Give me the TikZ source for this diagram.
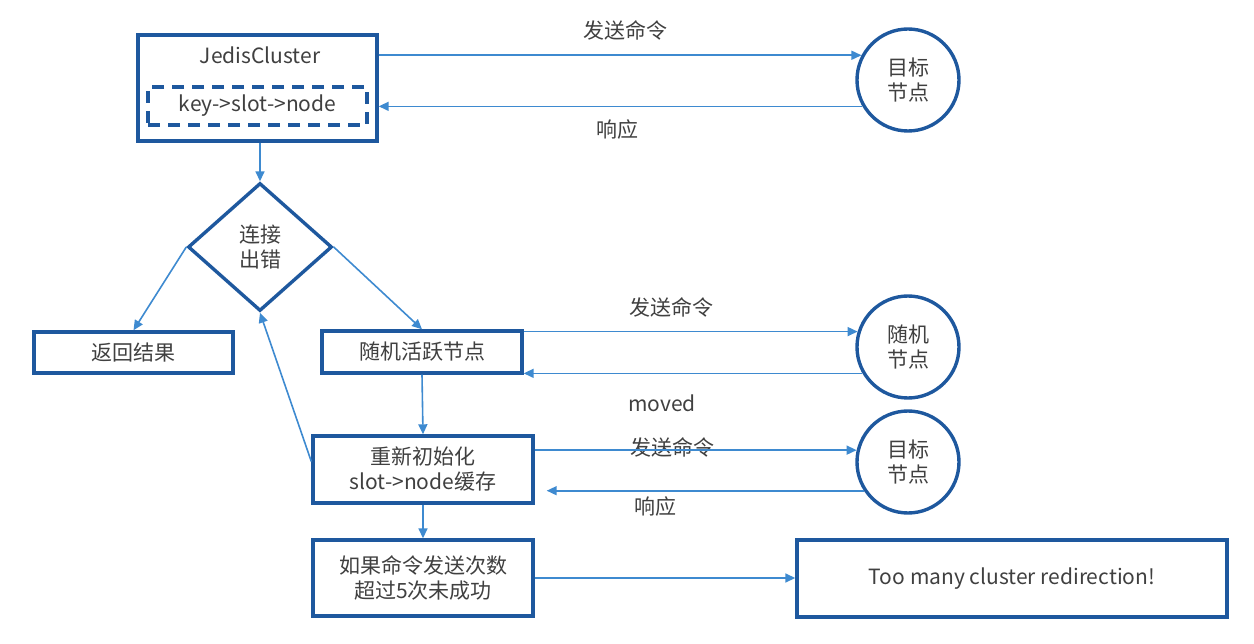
\documentclass[tikz,border=0pt]{standalone}
\usepackage{fontspec}
\setmainfont{Noto Sans CJK SC}
\usetikzlibrary{shapes.geometric,arrows.meta}
\definecolor{boxblue}{RGB}{30,88,158}
\definecolor{linkblue}{RGB}{62,138,208}
\definecolor{txtgray}{RGB}{64,64,64}
\tikzset{
  box/.style={draw=boxblue, line width=3.4pt, fill=white},
  dashbox/.style={draw=boxblue, line width=3.4pt, dash pattern=on 12pt off 8pt},
  ring/.style={circle, draw=boxblue, line width=3.4pt, minimum size=102pt, inner sep=0pt},
  link/.style={draw=linkblue, line width=1.6pt, ->}
}
\begin{document}
\begin{tikzpicture}[x=1pt, y=-1pt,
   font=\fontsize{21}{25}\selectfont,
   every node/.append style={text=txtgray, align=center},
   >={Triangle[length=10pt,width=9pt]}]
   \useasboundingbox (0,0) rectangle (1254,644);
   % client side
   \node[box, minimum width=239pt, minimum height=106pt] (jc) at (257.5,88) {};
   \node (jcname) at (260,55) {JedisCluster};
   \node[dashbox, minimum width=219pt, minimum height=38pt] (map) at (257.5,106) {key->slot->node};
   \node[diamond, draw=boxblue, line width=3.4pt, inner sep=0pt,
         minimum width=144pt, minimum height=128pt] (err) at (260,247) {连接\\出错};
   \node[box, minimum width=199pt, minimum height=41pt] (back) at (133.5,352.5) {返回结果};
   \node[box, minimum width=200pt, minimum height=42pt] (rand) at (422,352) {随机活跃节点};
   \node[box, minimum width=220pt, minimum height=67pt] (init) at (423,469.5) {重新初始化\\slot->node缓存};
   \node[box, minimum width=220pt, minimum height=76pt] (fail) at (423,578) {如果命令发送次数\\超过5次未成功};
   \node[box, minimum width=430pt, minimum height=77pt] (many) at (1012,578.5) {Too many cluster redirection!};
   % server side
   \node[ring] (tgt) at (908,80) {目标\\节点};
   \node[ring] (rnd) at (908,347) {随机\\节点};
   \node[ring] (tg2) at (908,462) {目标\\节点};
   % labels
   \node (send1) at (625,30) {发送命令};
   \node (resp1) at (617,130) {响应};
   \node (send2) at (671,307) {发送命令};
   \node (moved) at (662,403) {moved};
   \node (send3) at (672,447) {发送命令};
   \node (resp3) at (655,507) {响应};
   % connectors
   \path
     (jc.east |- tgt.152) edge[link] (tgt.152)
     (tgt.210) edge[link] (jc.east |- tgt.210)
     (err.north |- jc.south) edge[link] (err.north)
     (err.west) edge[link] (back.north)
     (err.east) edge[link] (rand.north)
     (rand.east |- rnd.163) edge[link] (rnd.163)
     (rnd.210) edge[link] (rand.east |- rnd.210)
     (rand.south) edge[link] (init.north)
     ([yshift=8pt]init.west) edge[link] (err.south)
     (init.east |- tg2.167) edge[link] (tg2.167)
     (tg2.213) edge[link] ([xshift=12pt]init.east |- tg2.213)
     (init.south) edge[link] (fail.north)
     (fail.east) edge[link] (many.west |- fail.east);
\end{tikzpicture}
\end{document}
